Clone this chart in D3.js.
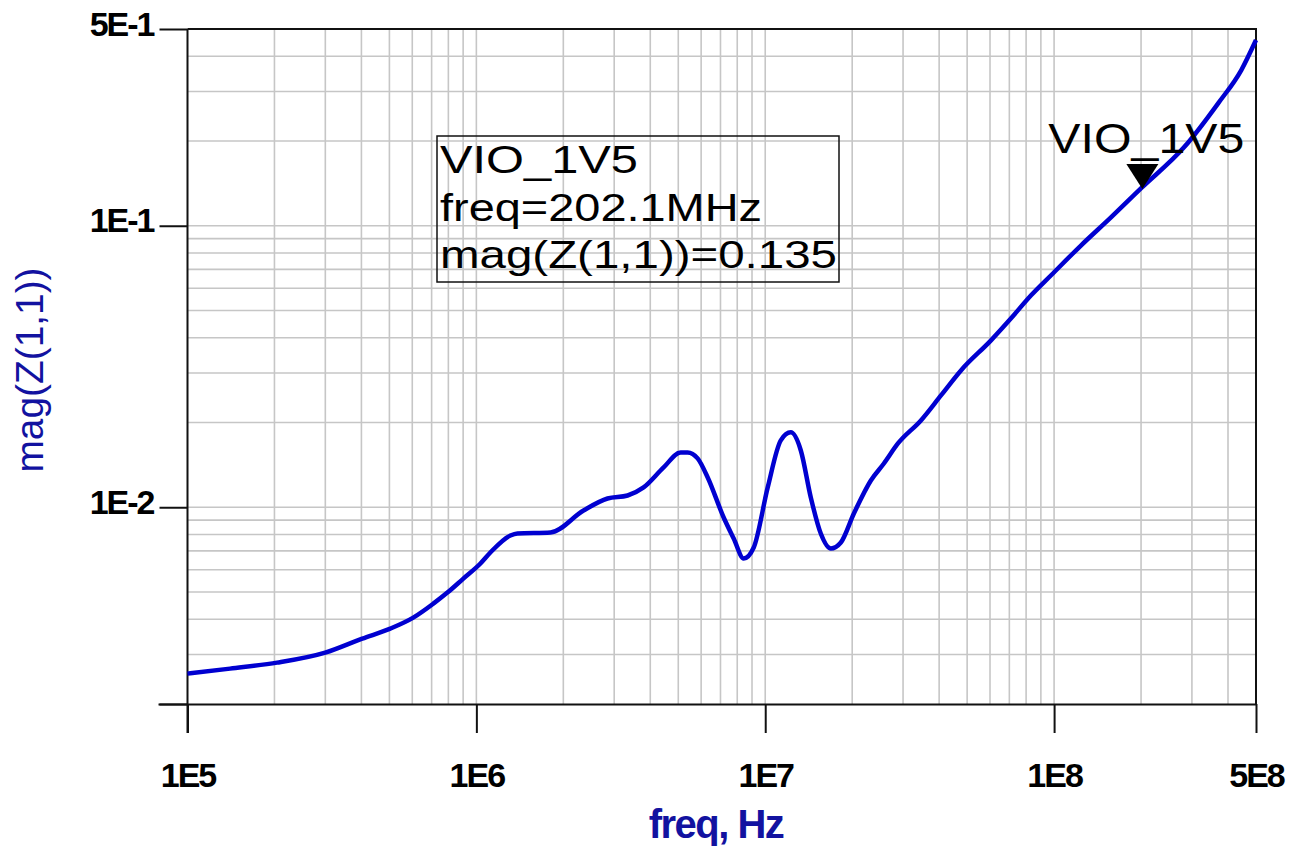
<!DOCTYPE html>
<html>
<head>
<meta charset="utf-8">
<script src="https://cdn.jsdelivr.net/npm/d3@7"></script>
<style>
  html, body { margin: 0; padding: 0; background: #fff; }
  svg { display: block; }
</style>
</head>
<body>
<svg id="chart" width="1294" height="850"></svg>
<script>
// ---- data ----
const freqHz = [
  1.0e5, 1.404e5, 2.042e5, 2.997e5, 4.026e5, 5.034e5, 6.047e5, 7.096e5, 7.938e5, 9.014e5,
  1.033e6, 1.118e6, 1.312e6, 1.387e6, 1.805e6, 2.349e6, 2.845e6, 3.338e6, 3.792e6, 4.448e6,
  5.095e6, 5.388e6, 5.834e6, 6.322e6, 7.180e6, 7.778e6, 8.424e6, 9.124e6, 1.020e7, 1.132e7,
  1.226e7, 1.328e7, 1.438e7, 1.557e7, 1.687e7, 1.827e7, 2.027e7, 2.321e7, 2.575e7, 2.880e7,
  3.459e7, 4.058e7, 4.760e7, 6.047e7, 7.096e7, 8.325e7, 9.763e7, 1.241e8, 1.577e8, 2.002e8,
  2.822e8, 3.703e8, 4.448e8, 5.0e8
];
const magZ = [
  2.564e-3, 2.671e-3, 2.805e-3, 3.045e-3, 3.414e-3, 3.705e-3, 4.054e-3, 4.546e-3, 4.975e-3, 5.579e-3,
  6.310e-3, 6.905e-3, 7.933e-3, 8.064e-3, 8.130e-3, 9.737e-3, 1.074e-2, 1.101e-2, 1.176e-2, 1.385e-2,
  1.565e-2, 1.565e-2, 1.491e-2, 1.276e-2, 9.195e-3, 7.741e-3, 6.572e-3, 7.192e-3, 1.176e-2, 1.728e-2,
  1.845e-2, 1.591e-2, 1.083e-2, 8.064e-3, 7.132e-3, 7.491e-3, 9.501e-3, 1.245e-2, 1.430e-2, 1.685e-2,
  2.035e-2, 2.496e-2, 3.063e-2, 3.917e-2, 4.692e-2, 5.662e-2, 6.671e-2, 8.525e-2, 0.1073, 0.1360,
  0.1903, 0.2728, 0.3574, 0.4568
];
const xDomain = [1e5, 5e8];
const yDomain = [2e-3, 5e-1];
const xTickValues = [1e5, 1e6, 1e7, 1e8, 5e8];
const xTickLabels = ["1E5", "1E6", "1E7", "1E8", "5E8"];
const yTickValues = [2e-3, 1e-2, 1e-1, 5e-1];
const yTickLabels = ["", "1E-2", "1E-1", "5E-1"];
const xGridValues = [2e5,3e5,4e5,5e5,6e5,7e5,8e5,9e5,1e6,2e6,3e6,4e6,5e6,6e6,7e6,8e6,9e6,1e7,2e7,3e7,4e7,5e7,6e7,7e7,8e7,9e7,1e8,2e8,3e8,4e8];
const yGridValues = [3e-3,4e-3,5e-3,6e-3,7e-3,8e-3,9e-3,1e-2,2e-2,3e-2,4e-2,5e-2,6e-2,7e-2,8e-2,9e-2,1e-1,2e-1,3e-1,4e-1];
const seriesName = "VIO_1V5";
const markerFreq = 202.1e6;
const markerMag = 0.135;
const markerLines = ["VIO_1V5", "freq=202.1MHz", "mag(Z(1,1))=0.135"];
const xTitle = "freq, Hz";
const yTitle = "mag(Z(1,1))";

// ---- layout ----
const L = 187.5, R = 1256, T = 29, B = 704;
const svg = d3.select("#chart");
svg.append("rect").attr("width", 1294).attr("height", 850).attr("fill", "#fff");

const x = d3.scaleLog().domain(xDomain).range([L, R]);
const y = d3.scaleLog().domain(yDomain).range([B, T]);

// grid
const grid = svg.append("g").attr("stroke", "#c6c6c6").attr("stroke-width", 1.6);
grid.selectAll("line.gx").data(xGridValues).join("line")
  .attr("x1", d => x(d)).attr("x2", d => x(d)).attr("y1", T).attr("y2", B);
grid.selectAll("line.gy").data(yGridValues).join("line")
  .attr("y1", d => y(d)).attr("y2", d => y(d)).attr("x1", L).attr("x2", R);

// frame (top & right)
svg.append("path")
  .attr("d", `M${L},${T}H${R}V${B}`)
  .attr("fill", "none").attr("stroke", "#111").attr("stroke-width", 2);

const tickFont = "'Liberation Sans', Arial, sans-serif";

// x axis
const xAxis = d3.axisBottom(x).tickValues(xTickValues)
  .tickFormat((d, i) => xTickLabels[i]).tickSize(29).tickSizeOuter(0).tickPadding(30);
const gx = svg.append("g").attr("transform", `translate(0,${B})`).call(xAxis);
gx.select(".domain").attr("d", `M${L - 29},0.5H${R}`).attr("stroke", "#111").attr("stroke-width", 2);
gx.selectAll(".tick line").attr("stroke", "#111").attr("stroke-width", 2);
gx.selectAll(".tick text")
  .attr("fill", "#000").attr("font-family", tickFont).attr("font-weight", "bold")
  .attr("font-size", 34).attr("letter-spacing", -2).attr("dy", "0.71em");

// y axis
const yAxis = d3.axisLeft(y).tickValues(yTickValues)
  .tickFormat((d, i) => yTickLabels[i]).tickSize(28).tickSizeOuter(0).tickPadding(6);
const gy = svg.append("g").attr("transform", `translate(${L},0)`).call(yAxis);
gy.select(".domain").attr("d", `M0,${T}V${B + 29}`).attr("stroke", "#111").attr("stroke-width", 2);
gy.selectAll(".tick line").attr("stroke", "#111").attr("stroke-width", 2);
gy.selectAll(".tick text")
  .attr("fill", "#000").attr("font-family", tickFont).attr("font-weight", "bold")
  .attr("font-size", 34).attr("letter-spacing", -2).attr("dy", "0.0em").attr("y", 6);

// curve
const line = d3.line().x(d => x(d[0])).y(d => y(d[1])).curve(d3.curveMonotoneX);
svg.append("path")
  .datum(freqHz.map((f, i) => [f, magZ[i]]))
  .attr("d", line)
  .attr("fill", "none").attr("stroke", "#0000d0").attr("stroke-width", 4.5)
  .attr("stroke-linejoin", "round");

// marker triangle
const mx = x(markerFreq), my = y(markerMag);
svg.append("path")
  .attr("d", `M${mx},${my}L${mx - 16},${my - 25}L${mx + 16},${my - 25}Z`)
  .attr("fill", "#000");
svg.append("text")
  .attr("x", mx - 94).attr("y", my - 36)
  .attr("font-family", "'Liberation Sans', Arial, sans-serif").attr("font-size", 42)
  .attr("textLength", 196).attr("lengthAdjust", "spacingAndGlyphs")
  .attr("fill", "#000").text(seriesName);

// marker readout box
svg.append("rect").attr("x", 437).attr("y", 136).attr("width", 402).attr("height", 146)
  .attr("fill", "none").attr("stroke", "#111").attr("stroke-width", 1.5);
const boxWidths = [198, 322, 397];
svg.selectAll("text.readout").data(markerLines).join("text")
  .attr("class", "readout")
  .attr("x", 440).attr("y", (d, i) => 173 + i * 47.5)
  .attr("font-family", "'Liberation Sans', Arial, sans-serif").attr("font-size", 39)
  .attr("textLength", (d, i) => boxWidths[i]).attr("lengthAdjust", "spacingAndGlyphs")
  .attr("fill", "#000").text(d => d);

// axis titles
svg.append("text")
  .attr("x", 716).attr("y", 838).attr("text-anchor", "middle")
  .attr("font-family", tickFont).attr("font-weight", "bold").attr("font-size", 40)
  .attr("letter-spacing", -1.5).attr("fill", "#1212a0").text(xTitle);
svg.append("text")
  .attr("transform", "translate(43,370) rotate(-90)")
  .attr("text-anchor", "middle")
  .attr("font-family", tickFont).attr("font-size", 38)
  .attr("textLength", 205).attr("lengthAdjust", "spacingAndGlyphs")
  .attr("fill", "#1212a0").text(yTitle);
</script>
</body>
</html>
